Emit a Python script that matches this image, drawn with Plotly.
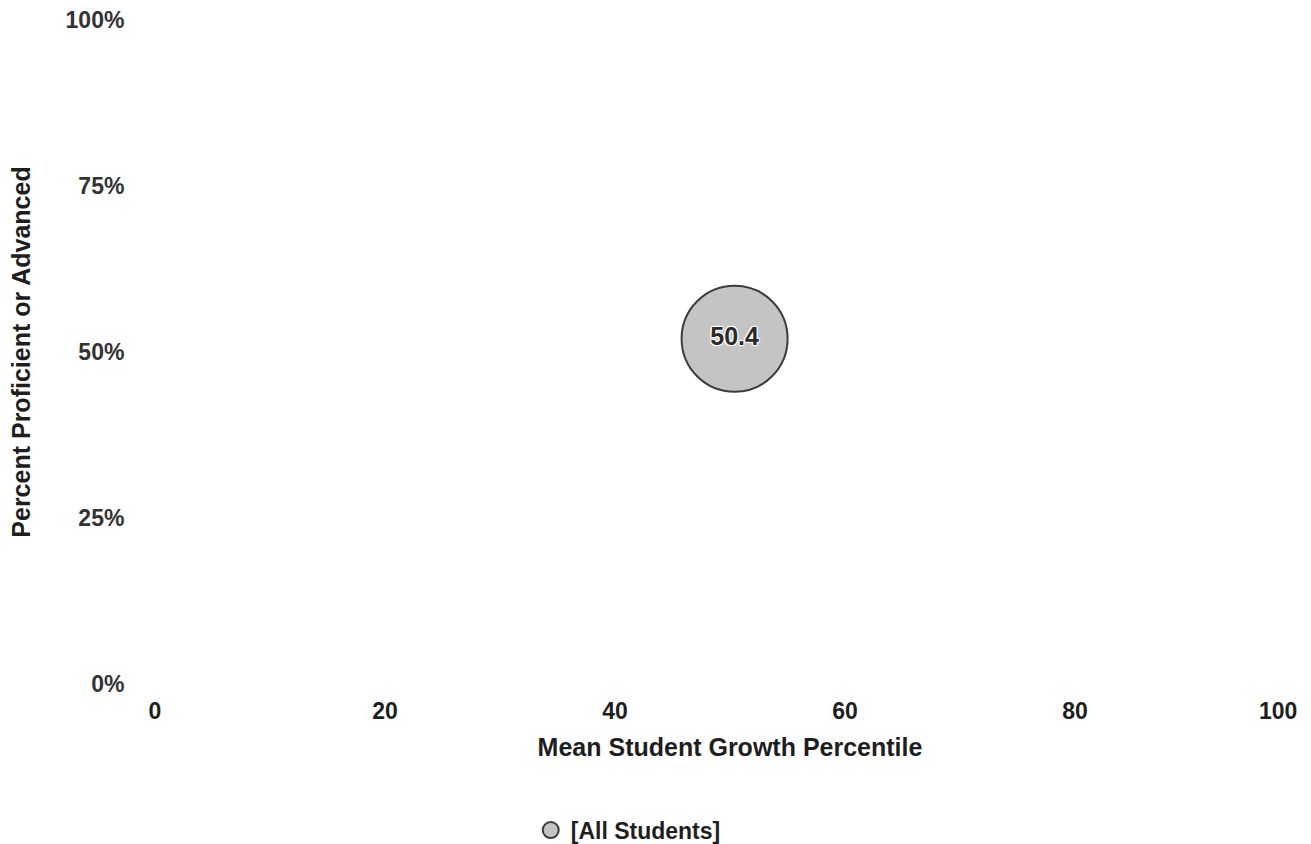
import plotly.graph_objects as go

# Data
groups = ["[All Students]"]
mean_sgp = [50.4]
pct_prof_adv = [52.0]
bubble_labels = ["50.4"]

x_ticks = [0, 20, 40, 60, 80, 100]
y_ticks = [0, 25, 50, 75, 100]
y_tick_text = ["0%", "25%", "50%", "75%", "100%"]

FONT = "Liberation Sans, Arial, sans-serif"
TXT = "#1e1e1e"

fig = go.Figure()
fig.add_trace(go.Scatter(
    x=mean_sgp, y=pct_prof_adv, mode="markers+text",
    name=groups[0], text=bubble_labels, textposition="middle center",
    textfont=dict(family=FONT, size=25, color="#2a2a2a", weight="bold",
                  shadow="1px 1px 1px white, -1px -1px 1px white, 1px -1px 1px white, -1px 1px 1px white"),
    marker=dict(size=106, color="#c4c4c4", line=dict(color="#3c3c3c", width=2)),
    cliponaxis=False,
))

fig.update_layout(
    width=1311, height=844,
    paper_bgcolor="white", plot_bgcolor="white",
    margin=dict(l=155, r=6, t=20, b=160, autoexpand=False),
    font=dict(family=FONT, color=TXT),
    showlegend=True,
    legend=dict(orientation="h", x=0.4115, xanchor="center", y=-0.22, yanchor="middle",
                font=dict(family=FONT, size=23, color=TXT, weight="bold"),
                itemsizing="trace"),
    xaxis=dict(range=[0, 100], tickvals=x_ticks[:-1], ticktext=[str(v) for v in x_ticks[:-1]],
               showgrid=False, zeroline=False, showline=False,
               ticks="outside", ticklen=6, tickcolor="rgba(0,0,0,0)",
               tickfont=dict(family=FONT, size=23, color=TXT, weight="bold"),
               title=dict(text="Mean Student Growth Percentile", standoff=15,
                          font=dict(family=FONT, size=25, color=TXT, weight="bold")),
               automargin=False),
    yaxis=dict(range=[0, 100], tickvals=y_ticks, ticktext=y_tick_text,
               showgrid=False, zeroline=False, showline=False,
               ticks="outside", ticklen=25, tickcolor="rgba(0,0,0,0)",
               tickfont=dict(family=FONT, size=23, color="#333333", weight="bold"),
               title=dict(text="Percent Proficient or Advanced", standoff=27,
                          font=dict(family=FONT, size=25, color=TXT, weight="bold")),
               automargin=False),
)

# Last x tick label, kept inside the page as in the reference
fig.add_annotation(x=x_ticks[-1], y=0, xref="x", yref="y", text=str(x_ticks[-1]),
                   showarrow=False, xanchor="right", yanchor="top", xshift=-6, yshift=-12,
                   font=dict(family=FONT, size=23, color=TXT, weight="bold"))

fig.write_html("out.html", config={"displayModeBar": False},
               post_script="document.body.style.margin='0';")
